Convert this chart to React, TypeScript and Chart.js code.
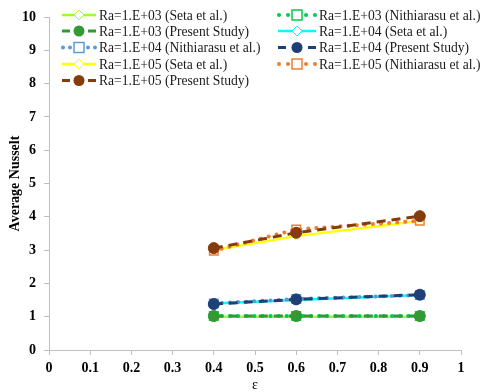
import React, { useEffect, useRef } from "react";
import { Chart, registerables } from "chart.js";

Chart.register(...registerables);

const epsilon = [0.4, 0.6, 0.9];
const xTicks = [0, 0.1, 0.2, 0.3, 0.4, 0.5, 0.6, 0.7, 0.8, 0.9, 1];

const seta3 = [1.0, 1.0, 1.0];
const nith3 = [1.02, 1.02, 1.02];
const present3 = [1.02, 1.02, 1.02];
const seta4 = [1.4, 1.5, 1.65];
const nith4 = [1.4, 1.53, 1.65];
const present4 = [1.38, 1.52, 1.66];
const seta5 = [3.0, 3.42, 3.87];
const nith5 = [2.98, 3.62, 3.88];
const present5 = [3.06, 3.52, 4.02];

const labels = [
  "Ra=1.E+03 (Seta et al.)",
  "Ra=1.E+03 (Nithiarasu et al.)",
  "Ra=1.E+03 (Present Study)",
  "Ra=1.E+04 (Seta et al.)",
  "Ra=1.E+04 (Nithiarasu et al.)",
  "Ra=1.E+04 (Present Study)",
  "Ra=1.E+05 (Seta et al.)",
  "Ra=1.E+05 (Nithiarasu et al.)",
  "Ra=1.E+05 (Present Study)",
];
const seriesValues = [seta3, nith3, present3, seta4, nith4, present4, seta5, nith5, present5];
const colors = ["#99FF33", "#00CC50", "#339933", "#00FFFF", "#5B9BD5", "#1F3F77", "#FFFF00", "#ED7D31", "#843C0C"];
const kinds = ["seta", "nith", "present", "seta", "nith", "present", "seta", "nith", "present"];

const SERIF = "'Liberation Serif', 'Times New Roman', serif";

function styleFor(kind: string, color: string) {
  if (kind === "seta") {
    return {
      borderWidth: 2.5,
      borderDash: [] as number[],
      borderCapStyle: "butt" as const,
      pointStyle: "rectRot" as const,
      pointRadius: 4,
      pointBackgroundColor: "#FFFFFF",
      pointBorderColor: color,
      pointBorderWidth: 1,
      order: 3,
    };
  }
  if (kind === "nith") {
    return {
      borderWidth: 4,
      borderDash: [0.1, 8] as number[],
      borderCapStyle: "round" as const,
      pointStyle: "rect" as const,
      pointRadius: 6,
      pointBackgroundColor: "rgba(255,255,255,0.6)",
      pointBorderColor: color,
      pointBorderWidth: 1.5,
      order: 2,
    };
  }
  return {
    borderWidth: 3,
    borderDash: [9, 6] as number[],
    borderCapStyle: "butt" as const,
    pointStyle: "circle" as const,
    pointRadius: 5.5,
    pointBackgroundColor: color,
    pointBorderColor: color,
    pointBorderWidth: 1,
    order: 1,
  };
}

function drawMarker(ctx: CanvasRenderingContext2D, kind: string, color: string, x: number, y: number) {
  ctx.save();
  ctx.setLineDash([]);
  if (kind === "seta") {
    ctx.beginPath();
    ctx.moveTo(x, y - 5);
    ctx.lineTo(x + 5, y);
    ctx.lineTo(x, y + 5);
    ctx.lineTo(x - 5, y);
    ctx.closePath();
    ctx.fillStyle = "#FFFFFF";
    ctx.fill();
    ctx.lineWidth = 1;
    ctx.strokeStyle = color;
    ctx.stroke();
  } else if (kind === "nith") {
    ctx.fillStyle = "#FFFFFF";
    ctx.fillRect(x - 5, y - 5, 10, 10);
    ctx.lineWidth = 1.5;
    ctx.strokeStyle = color;
    ctx.strokeRect(x - 5, y - 5, 10, 10);
  } else {
    ctx.beginPath();
    ctx.arc(x, y, 5.5, 0, Math.PI * 2);
    ctx.fillStyle = color;
    ctx.fill();
  }
  ctx.restore();
}

const legendPlugin = {
  id: "customLegend",
  afterDraw(chart: any) {
    const ctx: CanvasRenderingContext2D = chart.ctx;
    const rowY = [15, 31, 47.5, 64, 80.5];
    const cols = [
      { x0: 62, x1: 96, tx: 99 },
      { x0: 278, x1: 316, tx: 319 },
    ];
    ctx.save();
    labels.forEach((label, i) => {
      const row = Math.floor(i / 2);
      const col = cols[i % 2];
      const y = rowY[row];
      const kind = kinds[i];
      const color = colors[i];
      const st = styleFor(kind, color);
      const cx = (col.x0 + col.x1) / 2;
      ctx.save();
      ctx.strokeStyle = color;
      ctx.fillStyle = color;
      ctx.lineWidth = st.borderWidth;
      ctx.lineCap = st.borderCapStyle;
      if (kind === "present") {
        ctx.beginPath();
        ctx.setLineDash([]);
        ctx.moveTo(col.x0, y);
        ctx.lineTo(col.x0 + 8, y);
        ctx.moveTo(col.x1 - 8, y);
        ctx.lineTo(col.x1, y);
        ctx.stroke();
      } else if (kind === "nith") {
        const dots = [col.x0 + 1, cx - 9, cx + 9, col.x1 - 1];
        dots.forEach((dx) => {
          ctx.beginPath();
          ctx.arc(dx, y, 2, 0, Math.PI * 2);
          ctx.fill();
        });
      } else {
        ctx.beginPath();
        ctx.setLineDash([]);
        ctx.moveTo(col.x0, y);
        ctx.lineTo(col.x1, y);
        ctx.stroke();
      }
      ctx.restore();
      drawMarker(ctx, kind, color, cx, y);
      ctx.fillStyle = "#1A1A1A";
      ctx.font = `13.6px ${SERIF}`;
      ctx.textBaseline = "middle";
      ctx.textAlign = "left";
      ctx.fillText(label, col.tx, y + 1);
    });
    ctx.restore();
  },
};

export default function App() {
  const canvasRef = useRef<HTMLCanvasElement | null>(null);

  useEffect(() => {
    const canvas = canvasRef.current;
    if (!canvas) return;
    const datasets = labels.map((label, i) => {
      const st = styleFor(kinds[i], colors[i]);
      return {
        label,
        data: epsilon.map((x, j) => ({ x, y: seriesValues[i][j] })),
        borderColor: colors[i],
        backgroundColor: colors[i],
        showLine: true,
        tension: 0,
        ...st,
      };
    });
    const chart = new Chart(canvas, {
      type: "scatter",
      data: { datasets: datasets as any },
      options: {
        animation: false,
        responsive: false,
        maintainAspectRatio: false,
        layout: { padding: { left: 0, right: 20, top: 17, bottom: 0 } },
        plugins: {
          legend: { display: false },
          tooltip: { enabled: false },
          title: { display: false },
        },
        scales: {
          x: {
            type: "linear",
            min: 0,
            max: 1,
            afterBuildTicks: (scale: any) => {
              scale.ticks = xTicks.map((v) => ({ value: v }));
            },
            afterFit: (scale: any) => {
              scale.height = 42;
            },
            grid: {
              display: true,
              drawOnChartArea: false,
              drawTicks: true,
              tickLength: 5,
              color: "#BFBFBF",
            },
            border: { display: true, color: "#BFBFBF", width: 1 },
            ticks: {
              color: "#000000",
              padding: 5,
              maxRotation: 0,
              autoSkip: false,
              font: { family: SERIF, size: 14, weight: "bold" },
              callback: (v: any) => String(v),
            },
            title: {
              display: true,
              text: "ε",
              color: "#000000",
              padding: { top: 0, bottom: 0 },
              font: { family: SERIF, size: 14, lineHeight: 1.0 },
            },
          },
          y: {
            type: "linear",
            min: 0,
            max: 10,
            afterFit: (scale: any) => {
              scale.width = 49;
            },
            grid: {
              display: true,
              drawOnChartArea: false,
              drawTicks: true,
              tickLength: 5,
              color: "#BFBFBF",
            },
            border: { display: true, color: "#BFBFBF", width: 1 },
            ticks: {
              stepSize: 1,
              color: "#000000",
              padding: 8,
              font: { family: SERIF, size: 14, weight: "bold" },
            },
            title: {
              display: true,
              text: "Average Nusselt",
              color: "#000000",
              padding: { top: 7, bottom: 0 },
              font: { family: SERIF, size: 14, weight: "bold" },
            },
          },
        },
      },
      plugins: [legendPlugin],
    });
    return () => chart.destroy();
  }, []);

  return (
    <div style={{ position: "absolute", left: 0, top: 0, width: 481, height: 392, background: "#FFFFFF" }}>
      <canvas ref={canvasRef} width={481} height={392} style={{ display: "block" }} />
    </div>
  );
}
